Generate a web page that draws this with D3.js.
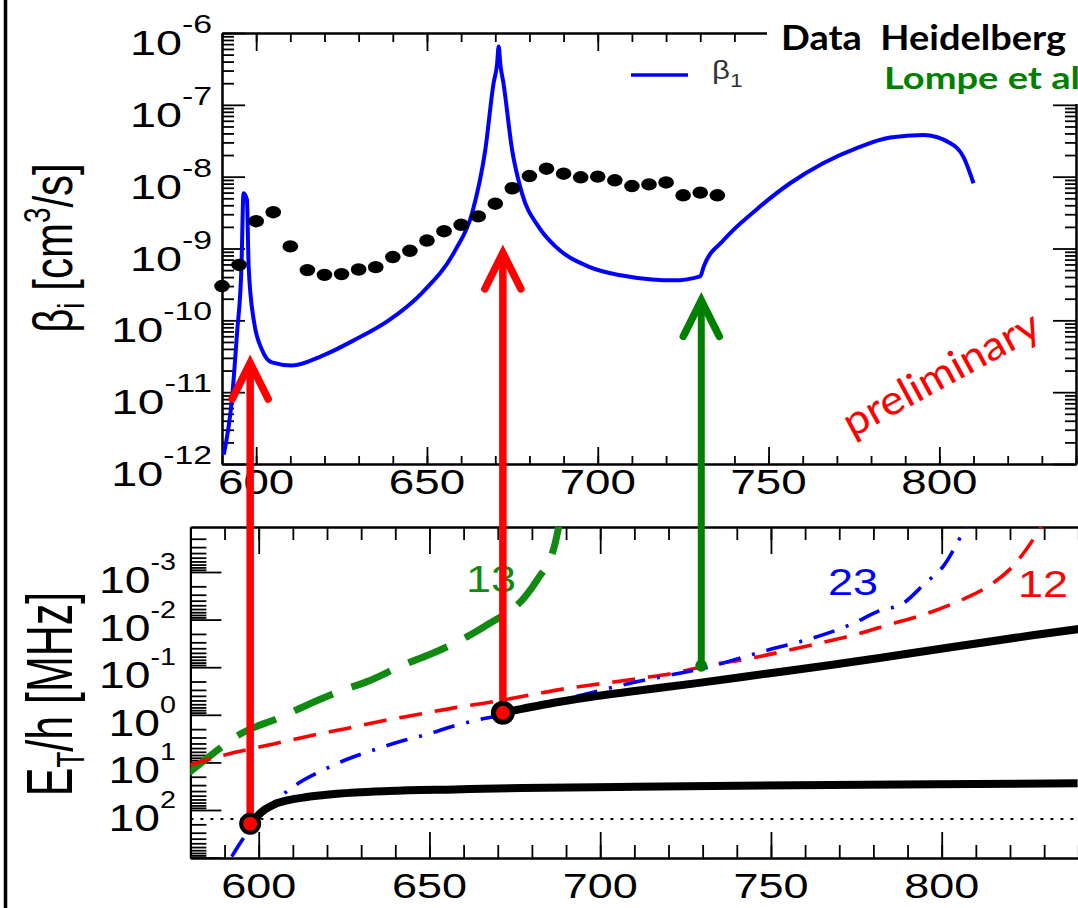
<!DOCTYPE html>
<html><head><meta charset="utf-8">
<script src="https://cdn.jsdelivr.net/npm/d3@7"></script>
<style>body{margin:0;background:#fff;} svg{display:block;} text{white-space:pre;}</style>
</head><body><svg id="c" width="1078" height="908"></svg>
<script>
// ---------------- data ----------------
// top panel: theory beta_1 (B in G, value in cm^3/s)
const betaB = [590.5,592.9,594.4,595.7,596.3,597.3,597.8,599.3,601.7,604.6,610.5,619.3,629.0,638.8,648.5,658.3,663.2,667.1,669.5,670.5,671.0,671.5,672.4,674.9,677.8,682.7,687.6,697.3,707.1,715.9,722.2,730.0,731.0,736.8,746.5,756.3,766.1,775.8,785.6,795.3,803.1,807.0,810.0];
const betaVal = [1.35e-12,7.9e-12,6.6e-11,5.6e-10,5.9e-9,4.8e-9,5.6e-10,1.0e-10,3.9e-11,2.6e-11,2.35e-11,3.2e-11,5.4e-11,1.0e-10,2.4e-10,9.5e-10,3.1e-9,2.4e-8,2.0e-7,3.6e-7,6.5e-7,3.6e-7,2.0e-7,2.4e-8,5.9e-9,2.0e-9,1.07e-9,5.6e-10,4.2e-10,3.7e-10,3.6e-10,4.1e-10,5.6e-10,1.3e-9,3.5e-9,8.1e-9,1.55e-8,2.5e-8,3.5e-8,3.8e-8,2.95e-8,1.9e-8,8.1e-9];
// top panel: data Heidelberg (Lompe et al)
const dataB = [590,595,600,605,610,615,620,625,630,635,640,645,650,655,660,665,670,675,680,685,690,695,700,705,710,715,720,725,730,735];
const dataVal = [3.0e-10,5.9e-10,2.4e-9,3.2e-9,1.07e-9,5.0e-10,4.3e-10,4.4e-10,5.1e-10,5.5e-10,7.6e-10,9.3e-10,1.29e-9,1.74e-9,2.14e-9,2.8e-9,4.2e-9,6.9e-9,1.02e-8,1.29e-8,1.10e-8,9.8e-9,1.0e-8,8.9e-9,7.4e-9,7.8e-9,8.3e-9,5.5e-9,6.0e-9,5.5e-9];
// bottom panel: E_T/h in MHz
const lowerB = [597.5,599.9,601.9,604.8,608.7,613.6,618.5,628.2,638.0,657.5,677.1,710.3,767.5,839.8];
const lowerE = [200,128,97,75,62,54,49,43,40,37,34.5,32.4,29.9,27.5];
const upperB = [671.5,677.1,686.8,696.6,709.0,728.4,748.0,767.5,787.1,806.6,826.1,841.0];
const upperE = [0.904,0.75,0.55,0.427,0.324,0.216,0.139,0.090,0.056,0.0347,0.0216,0.0155];
const red12B = [579.5,593.1,604.3,615.1,625.8,636.5,647.3,658.0,668.8,679.5,690.3,701.0,712.3,721.1,730.9,742.6,753.4,764.1,775.3,785.1,795.8,804.6,813.4,821.2,827.3,829.5];
const red12E = [11.5,6.15,4.11,2.75,1.93,1.33,0.964,0.698,0.53,0.384,0.278,0.218,0.168,0.135,0.094,0.068,0.047,0.0315,0.0201,0.0124,0.0074,0.0042,0.00204,0.00071,0.000181,0.0001];
const blue23B = [592.1,595.5,599.0,606.3,611.6,618.5,626.1,633.6,641.9,649.2,657.1,664.9,671.5,684.4,698.6,707.8,721.6,729.4,743.1,750.9,758.9,773.9,781.2,789.0,794.9,800.5,806.6,807.5];
const blue23E = [955,394,176,52.5,27.5,14.9,8.5,5.5,3.56,2.58,1.72,1.25,1.01,0.593,0.327,0.225,0.141,0.109,0.058,0.040,0.0286,0.0122,0.0068,0.0044,0.00179,0.00075,0.000131,0.0001];
const green13B = [579.4,583.3,595.0,606.8,613.1,624.8,631.7,643.4,649.7,661.9,667.3,678.0,681.5,686.8,688.0];
const green13E = [17,10.1,2.45,1.10,0.676,0.301,0.201,0.083,0.0555,0.0211,0.0124,0.0033,0.00148,0.00025,0.0001];
const dottedE = 155;
// arrows: field, tip (top panel, cm^3/s), base (bottom panel, MHz)
const arrowB = [597.5,671.5,729.6];
const arrowTip = [2.55e-11,8.7e-10,1.9e-10];
const arrowBase = [195,0.91,0.093];
const arrowColor = ["#ff0000","#ff0000","#008000"];
// ticks
const topXLabels = [600,650,700,750,800];
const topYExp = [-6,-7,-8,-9,-10,-11,-12];
const botXLabels = [600,650,700,750,800];
const botYExp = [-3,-2,-1,0,1,2];

// ---------------- drawing ----------------
const W=1078,H=908;
const svg=d3.select("#c");
svg.append("rect").attr("width",W).attr("height",H).attr("fill","#fff");
svg.append("line").attr("x1",5.5).attr("x2",5.5).attr("y1",0).attr("y2",H).attr("stroke","#000").attr("stroke-width",3.5);

const xT=d3.scaleLinear().domain([590,840]).range([222,1076]);
const yT=d3.scaleLog().domain([1e-12,1e-6]).range([464,33]);
const xB=d3.scaleLinear().domain([580,840]).range([190.4,1078.3]);
const yB0=d3.scaleLog().domain([1e-3,1e2]).range([572,810]);
const yB=d3.scaleLog().domain([yB0.invert(527),yB0.invert(858)]).range([527,858]);

const FONT="'Liberation Sans', Arimo, Arial, sans-serif";
function axis(gen,scale,vals,size,tr){
  const a=gen(scale).tickValues(vals).tickSize(size).tickSizeOuter(0).tickFormat("");
  const g=svg.append("g").attr("transform",tr).call(a);
  g.select(".domain").attr("stroke","#000").attr("stroke-width",2);
  g.selectAll(".tick line").attr("stroke","#000").attr("stroke-width",1.8);
  return g;
}
function nomW(s){let w=0;for(const ch of s){w+=(ch==='-')?0.333:0.556;}return w;}
function stext(x,y,stretch,anchor,size,color,parts){
  const g=svg.append("g");
  const t=g.append("text").attr("text-anchor",anchor).attr("font-family",FONT).attr("font-size",size).attr("fill",color);
  let target=0;
  parts.forEach(p=>{t.append("tspan").attr("dy",p.dy||0).attr("font-size",p.size||size).text(p.t);target+=nomW(p.t)*(p.size||size);});
  const w=t.node().getComputedTextLength()||target;
  const sx=stretch*target/w;
  g.attr("transform",`translate(${x},${y}) scale(${sx},1)`);
  return t;
}
function logTicks(scale,e0,e1,lo,hi){
  const minor=[],major=[];
  for(let e=e0;e<=e1;e++){for(let m=1;m<=9;m++){const v=m*Math.pow(10,e);const y=scale(v);
    if(y<Math.min(lo,hi)-0.5||y>Math.max(lo,hi)+0.5)continue; (m===1?major:minor).push(v);}}
  return {minor,major};
}

// ---- top panel ----
const tT=logTicks(yT,-12,-6,33,464);
const xMinorT=d3.range(590,841,10), xMajorT=topXLabels;
axis(d3.axisRight,yT,tT.minor,12,"translate(222,0)");
axis(d3.axisRight,yT,tT.major,23,"translate(222,0)");
axis(d3.axisLeft,yT,tT.minor,11,"translate(1076,0)");
axis(d3.axisLeft,yT,tT.major,23,"translate(1076,0)");
axis(d3.axisBottom,xT,xMinorT,9,"translate(0,33)");
axis(d3.axisBottom,xT,xMajorT,18,"translate(0,33)");
axis(d3.axisTop,xT,xMinorT,8,"translate(0,464)");
axis(d3.axisTop,xT,xMajorT,17,"translate(0,464)");

svg.append("clipPath").attr("id","clipT").append("rect").attr("x",222).attr("y",33).attr("width",854).attr("height",431);
svg.append("path").datum(betaB.map((b,i)=>[b,betaVal[i]]))
  .attr("clip-path","url(#clipT)")
  .attr("d",d3.line().x(d=>xT(d[0])).y(d=>yT(d[1])).curve(d3.curveMonotoneX))
  .attr("fill","none").attr("stroke","#0000ff").attr("stroke-width",4).attr("stroke-linejoin","round");
svg.append("g").selectAll("ellipse").data(dataB.map((b,i)=>[b,dataVal[i]])).join("ellipse")
  .attr("cx",d=>xT(d[0])).attr("cy",d=>yT(d[1])).attr("rx",7.8).attr("ry",6.2).attr("fill","#000");

// white overlay box behind slide captions
svg.append("rect").attr("x",767).attr("y",0).attr("width",311).attr("height",104).attr("fill","#fff");

// legend
svg.append("line").attr("x1",631).attr("x2",688).attr("y1",75).attr("y2",75).attr("stroke","#0000ff").attr("stroke-width",3.5);
(function(){
  const t=svg.append("text").attr("transform","translate(712,79) scale(1.2,1)").attr("font-family",FONT).attr("font-size",26).attr("fill","#333");
  t.append("tspan").text("β");
  t.append("tspan").attr("dy",8).attr("font-size",19).text("1");
})();

// slide captions
svg.append("text").attr("x",781).attr("y",50).attr("font-family","Lato, 'Open Sans', sans-serif").attr("font-weight","bold")
  .attr("font-size",34).attr("fill","#000").attr("textLength",285).attr("lengthAdjust","spacingAndGlyphs").text("Data  Heidelberg");
svg.append("text").attr("x",884).attr("y",89).attr("font-family","Lato, 'Open Sans', sans-serif").attr("font-weight","bold")
  .attr("font-size",31).attr("fill","#008000").attr("textLength",196).attr("lengthAdjust","spacingAndGlyphs").text("Lompe et al");
svg.append("text").attr("transform","translate(852,438) rotate(-28.5)").attr("font-family","Lato, 'Open Sans', sans-serif")
  .attr("font-size",41).attr("fill","#ff0000").attr("textLength",218).attr("lengthAdjust","spacingAndGlyphs").text("preliminary");

// top tick labels
topYExp.forEach(e=>{stext(212,yT(Math.pow(10,e))+22,1.3,"end",36,"#000",[{t:"10"},{t:String(e),dy:-22,size:26}]);});
topXLabels.forEach(v=>{stext(xT(v),494,1.27,"middle",36,"#000",[{t:String(v)}]);});
// top title
(function(){
  const g=svg.append("g").attr("transform","translate(72,248) scale(1.3,1) rotate(-90)");
  const t=g.append("text").attr("text-anchor","middle").attr("font-family",FONT).attr("font-size",42).attr("fill","#000");
  t.append("tspan").text("β");
  t.append("tspan").attr("dy",9).attr("font-size",28).text("i");
  t.append("tspan").attr("dy",-9).text(" [cm");
  t.append("tspan").attr("dy",-17).attr("font-size",28).text("3");
  t.append("tspan").attr("dy",17).text("/s]");
})();

// ---- bottom panel ----
const tB=logTicks(yB,-4,3,527,858);
const xMinorB=d3.range(580,841,10), xMajorB=botXLabels;
axis(d3.axisRight,yB,tB.minor,16,"translate(190.4,0)");
axis(d3.axisRight,yB,tB.major,31,"translate(190.4,0)");
axis(d3.axisBottom,xB,xMinorB,13,"translate(0,527)");
axis(d3.axisBottom,xB,xMajorB,27,"translate(0,527)");
axis(d3.axisTop,xB,xMinorB,13,"translate(0,858)");
axis(d3.axisTop,xB,xMajorB,26,"translate(0,858)");

svg.append("clipPath").attr("id","clipB").append("rect").attr("x",190.4).attr("y",527).attr("width",900).attr("height",331);
const lineB=d3.line().x(d=>xB(d[0])).y(d=>yB(d[1])).curve(d3.curveMonotoneX);
const zip=(a,b)=>a.map((v,i)=>[v,b[i]]);
const gB=svg.append("g").attr("clip-path","url(#clipB)");
gB.append("line").attr("x1",190.4).attr("x2",1078).attr("y1",yB(dottedE)).attr("y2",yB(dottedE))
  .attr("stroke","#000").attr("stroke-width",2).attr("stroke-dasharray","3,7");
gB.append("path").datum(zip(green13B,green13E)).attr("d",lineB).attr("fill","none").attr("stroke","#128a12").attr("stroke-width",7).attr("stroke-dasharray","42,20");
gB.append("path").datum(zip(red12B,red12E)).attr("d",lineB).attr("fill","none").attr("stroke","#ff0000").attr("stroke-width",3.6).attr("stroke-dasharray","23,13");
gB.append("path").datum(zip(blue23B,blue23E)).attr("d",lineB).attr("fill","none").attr("stroke","#0000ff").attr("stroke-width",3.6).attr("stroke-dasharray","22,12,3,12");
gB.append("path").datum(zip(lowerB,lowerE)).attr("d",lineB).attr("fill","none").attr("stroke","#000").attr("stroke-width",8);
gB.append("path").datum(zip(upperB,upperE)).attr("d",lineB).attr("fill","none").attr("stroke","#000").attr("stroke-width",8);

stext(466,592,1.25,"start",36,"#128a12",[{t:"13"}]);
stext(828,595,1.25,"start",36,"#0000ff",[{t:"23"}]);
stext(1018,597,1.25,"start",36,"#ff0000",[{t:"12"}]);

botYExp.forEach(e=>{stext(176,yB(Math.pow(10,e))+21,1.25,"end",37,"#000",[{t:"10"},{t:String(e),dy:-23,size:23}]);});
botXLabels.forEach(v=>{stext(xB(v),898,1.25,"middle",36,"#000",[{t:String(v)}]);});
(function(){
  const g=svg.append("g").attr("transform","translate(72,694) scale(1.5,1) rotate(-90)");
  const t=g.append("text").attr("text-anchor","middle").attr("font-family",FONT).attr("font-size",43).attr("fill","#000");
  t.append("tspan").text("E");
  t.append("tspan").attr("dy",8).attr("font-size",26).text("T");
  t.append("tspan").attr("dy",-8).text("/h [MHz]");
})();

// ---- arrows ----
arrowB.forEach((b,i)=>{
  const x=xB(b), yt=yT(arrowTip[i]), yb=yB(arrowBase[i]), c=arrowColor[i];
  svg.append("line").attr("x1",x).attr("x2",x).attr("y1",yt+4).attr("y2",yb).attr("stroke",c).attr("stroke-width",i===2?7:7.5);
  svg.append("polyline").attr("points",`${x-18},${yt+36} ${x},${yt} ${x+18},${yt+36}`)
    .attr("fill","none").attr("stroke",c).attr("stroke-width",7.5).attr("stroke-linecap","round").attr("stroke-linejoin","miter");
});
// end markers
svg.append("circle").attr("cx",xB(arrowB[0])).attr("cy",yB(arrowBase[0])).attr("r",9).attr("fill","#ff0000").attr("stroke","#000").attr("stroke-width",4);
svg.append("circle").attr("cx",xB(arrowB[1])).attr("cy",yB(arrowBase[1])).attr("r",9.5).attr("fill","#ff0000").attr("stroke","#000").attr("stroke-width",5);
svg.append("circle").attr("cx",xB(arrowB[2])).attr("cy",yB(arrowBase[2])).attr("r",6).attr("fill","#008000");
</script></body></html>
